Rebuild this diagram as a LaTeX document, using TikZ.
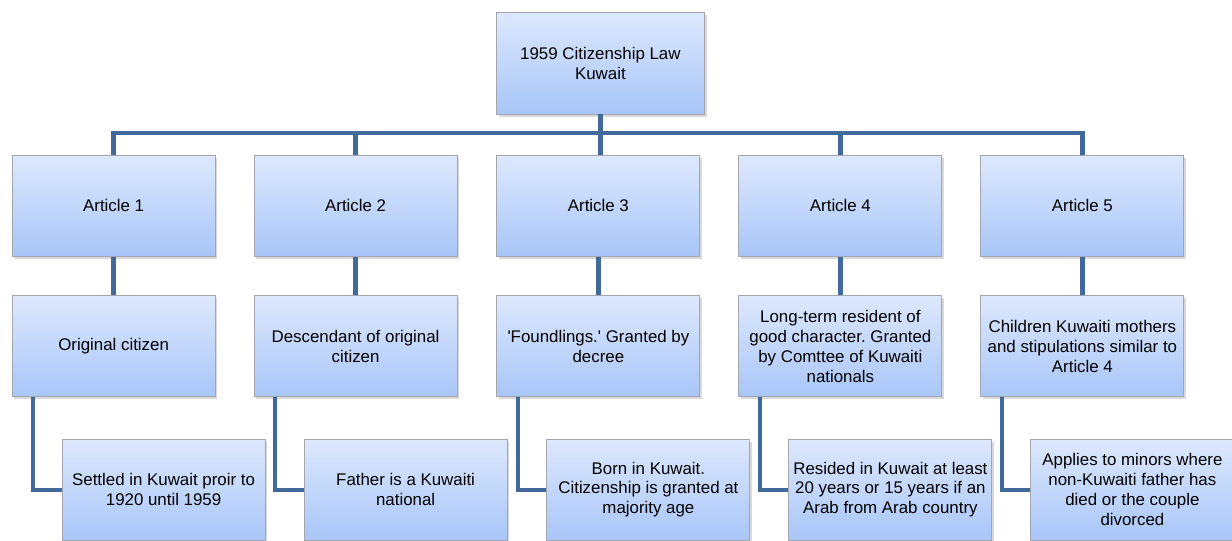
\documentclass[tikz,border=0pt]{standalone}
\usepackage{fontspec}
\setmainfont{Liberation Sans}
\usetikzlibrary{positioning, shadows}
\definecolor{kwtop}{HTML}{DDE8FD}
\definecolor{kwbot}{HTML}{A8C6F8}
\definecolor{kwedge}{HTML}{A3A6AC}
\definecolor{kwlink}{HTML}{41699A}
\frenchspacing

\begin{document}
\begin{tikzpicture}[
    box/.style={
        draw=kwedge, line width=0.6pt, top color=kwtop, bottom color=kwbot,
        minimum width=5.075cm, minimum height=2.525cm, align=center,
        inner sep=2pt, font=\fontsize{12}{14.2}\selectfont,
        drop shadow={shadow xshift=1.5pt, shadow yshift=-1.8pt, opacity=0.3}
    },
    link/.style={draw=kwlink, line width=3pt},
]
\useasboundingbox (0,0) rectangle (30.8,-13.5);

% ---- root ----
\node[box, minimum width=5.2cm, minimum height=2.55cm] (law) at (15.01,-1.575)
    {1959 Citizenship Law\\ Kuwait};

% ---- articles ----
\node[box] (art1) at (2.84,-5.14)  {Article 1};
\node[box] (art2) at (8.89,-5.14)  {Article 2};
\node[box] (art3) at (14.96,-5.14) {Article 3};
\node[box] (art4) at (21.01,-5.14) {Article 4};
\node[box] (art5) at (27.06,-5.14) {Article 5};

% ---- what each article covers ----
\node[box] (sub1) at (2.84,-8.66)  {Original citizen};
\node[box] (sub2) at (8.89,-8.66)  {Descendant of original\\ citizen};
\node[box] (sub3) at (14.96,-8.66)
    {\textquotesingle Foundlings.\textquotesingle{} Granted by\\ decree};
\node[box] (sub4) at (21.01,-8.66)
    {Long-term resident of\\ good character. Granted\\ by Comttee of Kuwaiti\\ nationals};
\node[box] (sub5) at (27.06,-8.66)
    {Children Kuwaiti mothers\\ and stipulations similar to\\ Article 4};

% ---- details, shifted right ----
\node[box] (det1) at (4.09,-12.24)  {Settled in Kuwait proir to\\ 1920 until 1959};
\node[box] (det2) at (10.14,-12.24) {Father is a Kuwaiti\\ national};
\node[box] (det3) at (16.21,-12.24)
    {Born in Kuwait.\\ Citizenship is granted at\\ majority age};
\node[box] (det4) at (22.26,-12.24)
    {Resided in Kuwait at least\\ 20 years or 15 years if an\\ Arab from Arab country};
\node[box] (det5) at (28.31,-12.24)
    {Applies to minors where\\ non-Kuwaiti father has\\ died or the couple\\ divorced};

% ---- root to articles ----
\coordinate (bus) at (15.01,-3.325);
\draw[link] (law.south) -- (law.south |- art3.north);
\draw[link] (art1.north) |- (bus) -| (art5.north);
\draw[link] (art2.north) -- (art2.north |- bus);
\draw[link] (art4.north) -- (art4.north |- bus);

% ---- articles down to their notes ----
\draw[link] (art1) -- (sub1);
\draw[link] (art2) -- (sub2);
\draw[link] (art3) -- (sub3);
\draw[link] (art4) -- (sub4);
\draw[link] (art5) -- (sub5);

% ---- elbows to the details ----
\draw[link] ([xshift=-2.01cm]sub1.south) |- (det1.west);
\draw[link] ([xshift=-2.01cm]sub2.south) |- (det2.west);
\draw[link] ([xshift=-2.01cm]sub3.south) |- (det3.west);
\draw[link] ([xshift=-2.01cm]sub4.south) |- (det4.west);
\draw[link] ([xshift=-2.01cm]sub5.south) |- (det5.west);

\end{tikzpicture}
\end{document}
